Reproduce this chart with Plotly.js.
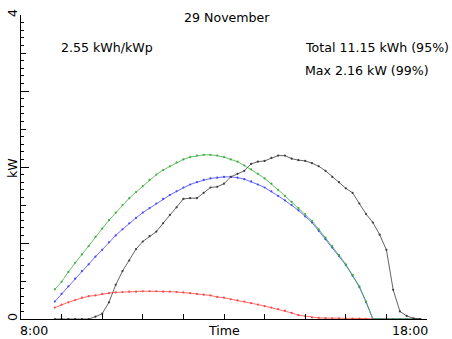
<!DOCTYPE html>
<html><head><meta charset="utf-8">
<script src="https://cdn.plot.ly/plotly-3.0.1.min.js"></script>
<style>html,body{margin:0;padding:0;background:#fff}#chart{width:452px;height:339px}</style>
</head><body><div id="chart"></div>
<script>
const times = ['8:50','9:00','9:10','9:20','9:30','9:40','9:50','10:00','10:10','10:20','10:30','10:40','10:50','11:00','11:10','11:20','11:30','11:40','11:50','12:00','12:10','12:20','12:30','12:40','12:50','13:00','13:10','13:20','13:30','13:40','13:50','14:00','14:10','14:20','14:30','14:40','14:50','15:00','15:10','15:20','15:30','15:40','15:50','16:00','16:10','16:20','16:30','16:40','16:50','17:00','17:10','17:20','17:30','17:40','17:50'];
const greenKW = [0.39,0.49,0.62,0.74,0.85,0.96, 1.08,1.19,1.30,1.40,1.50,1.59, 1.67,1.75,1.83,1.90,1.96,2.01, 2.06,2.10,2.13,2.15,2.16,2.16, 2.15,2.13,2.10,2.07,2.02,1.97, 1.91,1.85,1.78,1.70,1.62,1.54, 1.46,1.38,1.29,1.18,1.07,0.96, 0.84,0.72,0.58,0.43,0.23,0, 0,0,0,0,0,0,0];
const blueKW = [0.23,0.33,0.43,0.53,0.63,0.72, 0.82,0.91,1.01,1.10,1.18,1.26, 1.33,1.40,1.46,1.52,1.58,1.63, 1.68,1.73,1.77,1.80,1.83,1.85, 1.86,1.87,1.87,1.86,1.84,1.81, 1.77,1.73,1.68,1.62,1.56,1.50, 1.43,1.35,1.27,1.16,1.05,0.94, 0.83,0.71,0.57,0.42,0.22,0, 0,0,0,0,0,0,0];
const redKW = [0.15,0.19,0.22,0.25,0.28,0.30, 0.31,0.33,0.34,0.35,0.355,0.36, 0.36,0.365,0.365,0.365,0.36,0.36, 0.355,0.35,0.34,0.33,0.32,0.31, 0.29,0.28,0.26,0.245,0.23,0.21, 0.19,0.17,0.15,0.13,0.11,0.08, 0.05,0.035,0.02,0.015,0.012,0.01, 0.008,0.006,0.005,0.004,0.002,0, 0,0,0,0,0,0,0];
const actualKW = [0,0,0,0,0,0, 0.03,0.07,0.22,0.45,0.63,0.77, 0.92,1.02,1.09,1.15,1.26,1.37, 1.47,1.58,1.59,1.59,1.66,1.73, 1.74,1.78,1.87,1.91,1.95,2.04, 2.07,2.08,2.12,2.15,2.15,2.11, 2.09,2.08,2.05,2.01,1.95,1.87, 1.80,1.72,1.66,1.52,1.38,1.27, 1.11,0.91,0.385,0.10,0.04,0.01,0];
const xTickLabels = ['8:00','18:00'];
const yTickLabels = ['0','','','','4'];
const titleText = '29 November';
const xTitle = 'Time';
const yTitle = 'kW';
const infoLeft = '2.55 kWh/kWp';
const infoTotal = 'Total 11.15 kWh (95%)';
const infoMax = 'Max 2.16 kW (99%)';

const hours = times.map(t => { const [h, m] = t.split(':').map(Number); return h + m / 60; });

const W = 452, H = 339, L = 21, R = 25, T = 15, B = 20;
const pw = W - L - R, ph = H - T - B;
const px = x => (x - L) / pw;
const py = y => (H - B - y) / ph;

function series(y, color) {
  return {x: hours, y: y, type: 'scatter', mode: 'lines+markers',
    line: {color: color, width: 0.8}, marker: {color: color, size: 2.2},
    showlegend: false, hoverinfo: 'skip'};
}
const data = [
  series(redKW, 'rgb(255,70,70)'),
  series(blueKW, 'rgb(70,70,255)'),
  series(greenKW, 'rgb(60,175,60)'),
  series(actualKW, 'rgb(60,60,60)'),
  {x: [], y: [], yaxis: 'y2', type: 'scatter', showlegend: false}
];
const font = {family: 'DejaVu Sans', size: 12.6, color: '#000'};
function ann(text, x, y, xa, extra) {
  return Object.assign({text: text, xref: 'paper', yref: 'paper', x: px(x), y: py(y), xanchor: xa, yanchor: 'middle',
    showarrow: false, font: font, borderpad: 0, borderwidth: 0}, extra || {});
}
const layout = {
  width: W, height: H, margin: {l: L, r: R, t: T, b: B, pad: 0},
  paper_bgcolor: '#fff', plot_bgcolor: '#fff', font: font, showlegend: false,
  xaxis: {range: [8, 18], showgrid: false, zeroline: false, showline: true, linecolor: '#000', linewidth: 1,
    ticks: 'inside', ticklen: 5, tickcolor: '#000', dtick: 1, tick0: 8, showticklabels: false},
  yaxis: {range: [0, 4], showgrid: false, zeroline: false, showline: true, linecolor: '#000', linewidth: 1,
    ticks: 'inside', ticklen: 5, tickcolor: '#000', tickvals: [0,0.5,1,1.5,2,2.5,3,3.5,4], showticklabels: false,
    minor: {ticks: 'inside', ticklen: 3, dtick: 0.1, tick0: 0, tickcolor: '#000', showgrid: false}},
  yaxis2: {range: [0, 4], overlaying: 'y', side: 'left', anchor: 'x', showgrid: false, zeroline: false, showline: false,
    ticks: 'inside', ticklen: 8, tickcolor: '#000', tickvals: [0,1,2,3,4], ticktext: yTickLabels,
    tickangle: -90, tickfont: font},
  annotations: [
    ann(titleText, 227, 18, 'center'),
    ann(infoLeft, 61, 48, 'left'),
    ann(infoTotal, 305, 48, 'left'),
    ann(infoMax, 305, 70, 'left'),
    ann(xTickLabels[0], 20, 330, 'left'),
    ann(xTickLabels[1], 428, 330, 'right'),
    ann(xTitle, 224, 330, 'center'),
    ann(yTitle, 12, 168, 'center', {textangle: -90})
  ]
};
Plotly.newPlot('chart', data, layout, {staticPlot: true, displayModeBar: false});
</script></body></html>
